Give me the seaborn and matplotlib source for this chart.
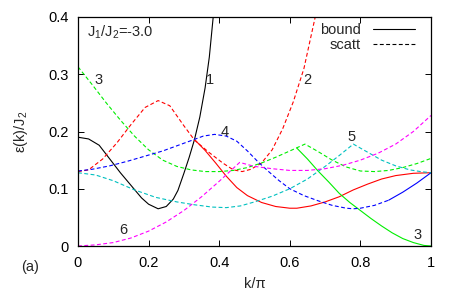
import numpy as np
import pandas as pd
import seaborn as sns
import matplotlib
matplotlib.use("Agg")
import matplotlib.pyplot as plt
from matplotlib.lines import Line2D

# ---------------- data ----------------
k_black = [0, 0.03, 0.06, 0.09, 0.12, 0.15, 0.18, 0.20, 0.227, 0.25, 0.27, 0.283,
           0.30, 0.315, 0.33, 0.345, 0.36, 0.372, 0.383]
e_black = [0.190, 0.187, 0.176, 0.152, 0.128, 0.106, 0.084, 0.073, 0.065, 0.069, 0.082,
           0.097, 0.127, 0.155, 0.186, 0.225, 0.276, 0.330, 0.400]

k_red_sc = [0, 0.03, 0.07, 0.11, 0.15, 0.19, 0.227, 0.26, 0.30, 0.33, 0.37, 0.41, 0.44,
            0.465, 0.49, 0.52, 0.55, 0.58, 0.61, 0.64, 0.672]
e_red_sc = [0.130, 0.133, 0.152, 0.180, 0.212, 0.242, 0.254, 0.245, 0.210, 0.185, 0.164,
            0.145, 0.133, 0.130, 0.134, 0.145, 0.168, 0.205, 0.252, 0.310, 0.400]

k_red_bd = [0.33, 0.36, 0.39, 0.42, 0.45, 0.48, 0.52, 0.56, 0.60, 0.62, 0.66, 0.70, 0.74,
            0.78, 0.82, 0.86, 0.90, 0.95, 1.0]
e_red_bd = [0.186, 0.167, 0.145, 0.122, 0.102, 0.088, 0.076, 0.069, 0.066, 0.066, 0.070,
            0.077, 0.086, 0.098, 0.108, 0.117, 0.123, 0.127, 0.128]

k_green_sc = [0, 0.04, 0.08, 0.12, 0.16, 0.20, 0.24, 0.28, 0.32, 0.36, 0.40, 0.44, 0.48,
              0.52, 0.56, 0.60, 0.643, 0.68, 0.72, 0.76, 0.80, 0.84, 0.88, 0.92, 0.96, 1.0]
e_green_sc = [0.313, 0.282, 0.250, 0.220, 0.192, 0.168, 0.150, 0.139, 0.133, 0.130, 0.130,
              0.132, 0.137, 0.145, 0.155, 0.166, 0.178, 0.165, 0.150, 0.138, 0.131, 0.130,
              0.132, 0.137, 0.144, 0.153]

k_green_bd = [0.62, 0.65, 0.68, 0.71, 0.74, 0.77, 0.80, 0.83, 0.86, 0.89, 0.92, 0.95, 0.98, 1.0]
e_green_bd = [0.171, 0.152, 0.131, 0.112, 0.092, 0.076, 0.062, 0.048, 0.035, 0.023, 0.013,
              0.006, 0.001, 0.0]

k_blue_sc = [0, 0.04, 0.09, 0.14, 0.19, 0.24, 0.28, 0.32, 0.355, 0.387, 0.42, 0.45, 0.48,
             0.51, 0.54, 0.57, 0.60, 0.64, 0.68, 0.72, 0.76, 0.78, 0.80, 0.84, 0.88]
e_blue_sc = [0.131, 0.134, 0.140, 0.148, 0.157, 0.166, 0.175, 0.184, 0.192, 0.195, 0.192,
             0.183, 0.166, 0.147, 0.130, 0.114, 0.100, 0.088, 0.079, 0.071, 0.066, 0.065,
             0.066, 0.071, 0.080]

k_blue_bd = [0.88, 0.92, 0.96, 1.0]
e_blue_bd = [0.080, 0.094, 0.110, 0.128]

k_cyan = [0, 0.05, 0.10, 0.16, 0.22, 0.28, 0.33, 0.38, 0.42, 0.46, 0.50, 0.55, 0.60, 0.65,
          0.70, 0.74, 0.78, 0.82, 0.86, 0.90, 0.94, 0.97, 1.0]
e_cyan = [0.128, 0.124, 0.114, 0.098, 0.085, 0.077, 0.072, 0.068, 0.067, 0.070, 0.077,
          0.087, 0.100, 0.117, 0.139, 0.158, 0.178, 0.164, 0.150, 0.140, 0.133, 0.130, 0.128]

k_mag = [0, 0.05, 0.10, 0.15, 0.20, 0.25, 0.30, 0.35, 0.40, 0.458, 0.50, 0.55, 0.60, 0.65,
         0.70, 0.75, 0.80, 0.85, 0.90, 0.95, 1.0]
e_mag = [0.0, 0.002, 0.006, 0.014, 0.026, 0.042, 0.062, 0.086, 0.113, 0.146, 0.139, 0.135,
         0.132, 0.132, 0.135, 0.141, 0.150, 0.162, 0.178, 0.200, 0.228]

curve_labels = ["1", "2", "3", "3", "4", "5", "6"]
label_pos = [(0.375, 0.290), (0.649, 0.290), (0.057, 0.290), (0.962, 0.019),
             (0.416, 0.199), (0.775, 0.191), (0.127, 0.028)]

x_ticks = [0, 0.2, 0.4, 0.6, 0.8, 1]
x_ticklabels = ["0", "0.2", "0.4", "0.6", "0.8", "1"]
y_ticks = [0, 0.1, 0.2, 0.3, 0.4]
y_ticklabels = ["0", "0.1", "0.2", "0.3", "0.4"]

# ---------------- style ----------------
sns.set_style("ticks")
plt.rcParams["font.family"] = ["Liberation Sans", "DejaVu Sans"]
plt.rcParams["mathtext.fontset"] = "custom"
plt.rcParams["mathtext.rm"] = "Liberation Sans"
plt.rcParams["mathtext.it"] = "Liberation Sans"
plt.rcParams["mathtext.default"] = "regular"

FS = 10.5
fig = plt.figure(figsize=(4.52, 3.01), dpi=100)
ax = fig.add_axes([78 / 452, 55 / 301, 353 / 452, 229 / 301])

LW = 0.8
DASH = (0, (3.5, 2.2))
SOLID = "-"

series = [
    (k_black, e_black, "black", SOLID),
    (k_red_sc, e_red_sc, "#ff0000", DASH),
    (k_red_bd, e_red_bd, "#ff0000", SOLID),
    (k_green_sc, e_green_sc, "#00ee00", DASH),
    (k_green_bd, e_green_bd, "#00ee00", SOLID),
    (k_blue_sc, e_blue_sc, "#0000ff", DASH),
    (k_blue_bd, e_blue_bd, "#0000ff", SOLID),
    (k_cyan, e_cyan, "#00c0c0", DASH),
    (k_mag, e_mag, "#ff00ff", DASH),
]
for kx, ey, col, ls in series:
    df = pd.DataFrame({"k": kx, "e": ey})
    sns.lineplot(data=df, x="k", y="e", ax=ax, color=col, linestyle=ls, lw=LW)

ax.set_xlim(0, 1)
ax.set_ylim(0, 0.4)
ax.set_xticks(x_ticks)
ax.set_xticklabels(x_ticklabels)
ax.set_yticks(y_ticks)
ax.set_yticklabels(y_ticklabels)
ax.tick_params(direction="in", top=True, right=True, length=4, width=0.7,
               labelsize=FS, pad=7, colors="black")
for sp in ax.spines.values():
    sp.set_visible(True)
    sp.set_linewidth(0.9)
    sp.set_color("black")

ax.set_xlabel("k/π", fontsize=FS, labelpad=5)
ax.set_ylabel("ε(k)/J$_2$", fontsize=FS, labelpad=13)

for lab, (lx, ly) in zip(curve_labels, label_pos):
    ax.text(lx, ly, lab, fontsize=FS, ha="center", va="center")

ax.text(0.025, 0.374, "J$_1$/J$_2$=-3.0", fontsize=FS, ha="left", va="center")
fig.text(30 / 452, 1 - 267 / 301, "(a)", fontsize=FS, ha="center", va="center")

handles = [Line2D([], [], color="black", lw=LW, linestyle=SOLID),
           Line2D([], [], color="black", lw=LW, linestyle=DASH)]
ax.legend(handles, ["bound", "scatt"], loc="upper right", markerfirst=False,
          frameon=False, fontsize=FS, handlelength=2.9, handletextpad=0.8,
          labelspacing=0.1, borderpad=0, borderaxespad=0,
          bbox_to_anchor=(0.955, 0.975))

fig.savefig("out.png", dpi=100)
